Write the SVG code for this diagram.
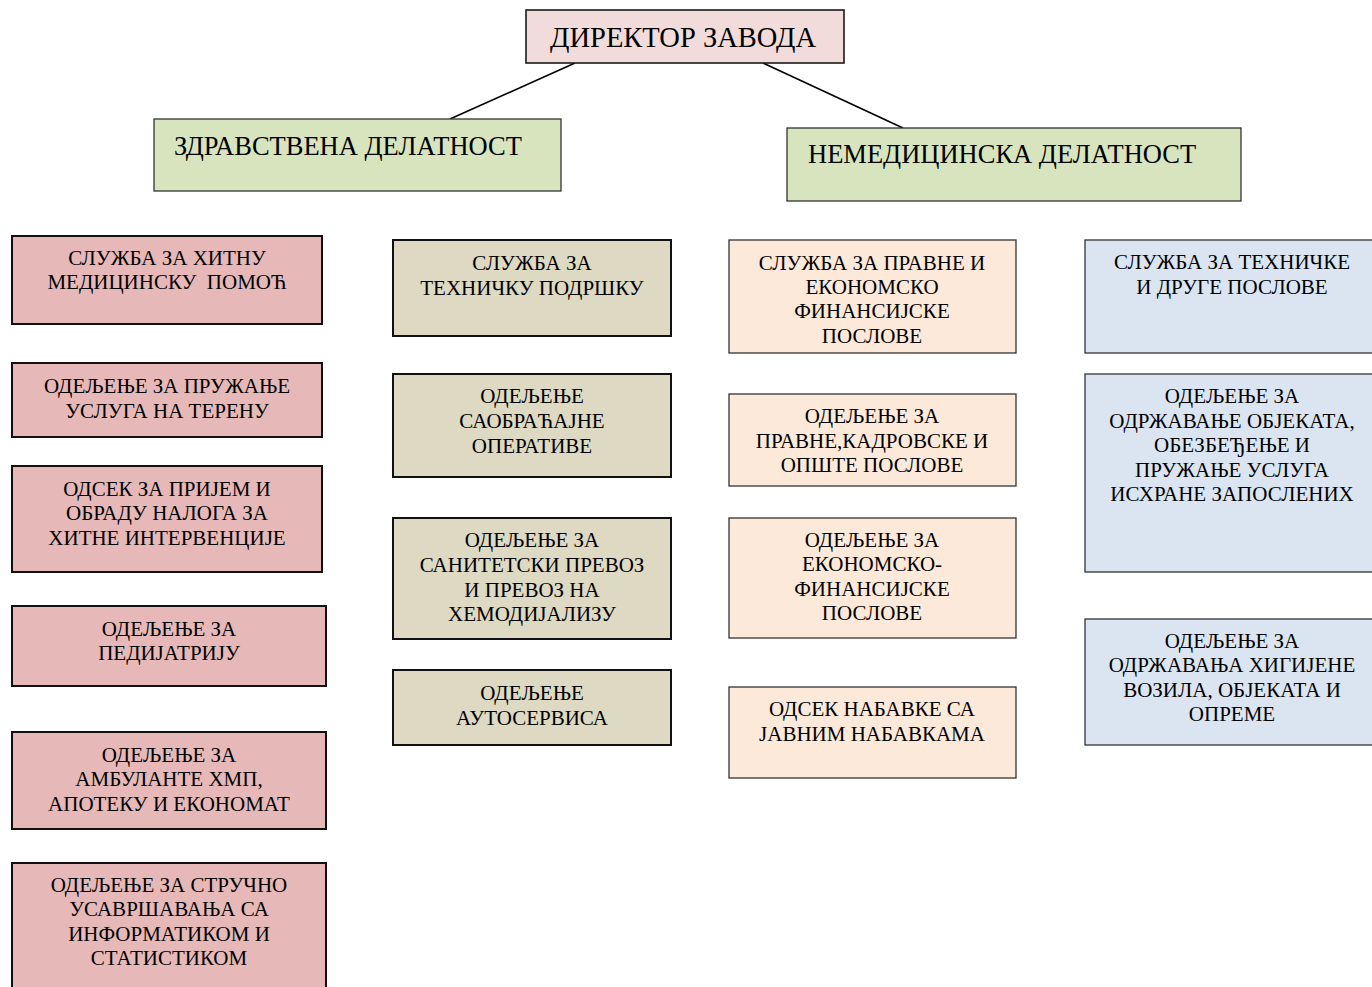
<svg xmlns="http://www.w3.org/2000/svg" width="1372" height="987" viewBox="0 0 1372 987">
<style>
text{font-family:"Liberation Serif","Times New Roman",serif;fill:#000;text-anchor:middle}
.t{font-size:21px}
.h{font-size:26.5px;text-anchor:start}
.top{fill:#f2dcdb;stroke:#1a1a1a;stroke-width:1.6}
.grn{fill:#d7e4bd;stroke:#333;stroke-width:1.3}
.pk{fill:#e6b9b8;stroke:#111;stroke-width:2}
.bg{fill:#ddd9c3;stroke:#111;stroke-width:2}
.pe{fill:#fde9d9;stroke:#333;stroke-width:1.3}
.bl{fill:#dbe5f1;stroke:#333;stroke-width:1.3}
.c{stroke:#000;stroke-width:1.6;fill:none}
</style>
<rect width="1372" height="987" fill="#fff"/>
<g id="connectors">
<line class="c" x1="575" y1="63" x2="450" y2="119"/>
<line class="c" x1="763" y1="63" x2="903" y2="128"/>
</g>
<g id="director"><rect class="top" x="526" y="10" width="318" height="53"/><text x="683" y="47" style="font-size:28.5px">ДИРЕКТОР ЗАВОДА</text></g>
<g id="zdravstvena"><rect class="grn" x="154" y="119" width="407" height="72"/><text class="h" x="174" y="155">ЗДРАВСТВЕНА ДЕЛАТНОСТ</text></g>
<g id="nemedicinska"><rect class="grn" x="787" y="128" width="454" height="73"/><text class="h" x="808" y="163">НЕМЕДИЦИНСКА ДЕЛАТНОСТ</text></g>

<g id="hmp"><rect class="pk" x="12" y="236" width="310" height="88"/><text class="t" x="167" y="265">СЛУЖБА ЗА ХИТНУ</text><text class="t" x="167" y="289" xml:space="preserve">МЕДИЦИНСКУ  ПОМОЋ</text></g>
<g id="teren"><rect class="pk" x="12" y="363" width="310" height="74"/><text class="t" x="167" y="393">ОДЕЉЕЊЕ ЗА ПРУЖАЊЕ</text><text class="t" x="167" y="418">УСЛУГА НА ТЕРЕНУ</text></g>
<g id="prijem"><rect class="pk" x="12" y="466" width="310" height="106"/><text class="t" x="167" y="496">ОДСЕК ЗА ПРИЈЕМ И</text><text class="t" x="167" y="520">ОБРАДУ НАЛОГА ЗА</text><text class="t" x="167" y="545">ХИТНЕ ИНТЕРВЕНЦИЈЕ</text></g>
<g id="pedijatrija"><rect class="pk" x="12" y="606" width="314" height="80"/><text class="t" x="169" y="636">ОДЕЉЕЊЕ ЗА</text><text class="t" x="169" y="660">ПЕДИЈАТРИЈУ</text></g>
<g id="ambulante"><rect class="pk" x="12" y="732" width="314" height="97"/><text class="t" x="169" y="762">ОДЕЉЕЊЕ ЗА</text><text class="t" x="169" y="786">АМБУЛАНТЕ ХМП,</text><text class="t" x="169" y="811">АПОТЕКУ И ЕКОНОМАТ</text></g>
<g id="strucno"><rect class="pk" x="12" y="863" width="314" height="130"/><text class="t" x="169" y="892">ОДЕЉЕЊЕ ЗА СТРУЧНО</text><text class="t" x="169" y="916">УСАВРШАВАЊА СА</text><text class="t" x="169" y="941">ИНФОРМАТИКОМ И</text><text class="t" x="169" y="965">СТАТИСТИКОМ</text></g>

<g id="tehpodrska"><rect class="bg" x="393" y="240" width="278" height="96"/><text class="t" x="532" y="270">СЛУЖБА ЗА</text><text class="t" x="532" y="295">ТЕХНИЧКУ ПОДРШКУ</text></g>
<g id="saobracajna"><rect class="bg" x="393" y="374" width="278" height="103"/><text class="t" x="532" y="403">ОДЕЉЕЊЕ</text><text class="t" x="532" y="428">САОБРАЋАЈНЕ</text><text class="t" x="532" y="453">ОПЕРАТИВЕ</text></g>
<g id="sanitetski"><rect class="bg" x="393" y="518" width="278" height="121"/><text class="t" x="532" y="547">ОДЕЉЕЊЕ ЗА</text><text class="t" x="532" y="572">САНИТЕТСКИ ПРЕВОЗ</text><text class="t" x="532" y="597">И ПРЕВОЗ НА</text><text class="t" x="532" y="621">ХЕМОДИЈАЛИЗУ</text></g>
<g id="autoservis"><rect class="bg" x="393" y="670" width="278" height="75"/><text class="t" x="532" y="700">ОДЕЉЕЊЕ</text><text class="t" x="532" y="725">АУТОСЕРВИСА</text></g>

<g id="pravne"><rect class="pe" x="729" y="240" width="287" height="113"/><text class="t" x="872" y="270">СЛУЖБА ЗА ПРАВНЕ И</text><text class="t" x="872" y="294">ЕКОНОМСКО</text><text class="t" x="872" y="318">ФИНАНСИЈСКЕ</text><text class="t" x="872" y="343">ПОСЛОВЕ</text></g>
<g id="kadrovske"><rect class="pe" x="729" y="394" width="287" height="92"/><text class="t" x="872" y="423">ОДЕЉЕЊЕ ЗА</text><text class="t" x="872" y="448">ПРАВНЕ,КАДРОВСКЕ И</text><text class="t" x="872" y="472">ОПШТЕ ПОСЛОВЕ</text></g>
<g id="ekonomsko"><rect class="pe" x="729" y="518" width="287" height="120"/><text class="t" x="872" y="547">ОДЕЉЕЊЕ ЗА</text><text class="t" x="872" y="571">ЕКОНОМСКО-</text><text class="t" x="872" y="596">ФИНАНСИЈСКЕ</text><text class="t" x="872" y="620">ПОСЛОВЕ</text></g>
<g id="nabavke"><rect class="pe" x="729" y="687" width="287" height="91"/><text class="t" x="872" y="716">ОДСЕК НАБАВКЕ СА</text><text class="t" x="872" y="741">ЈАВНИМ НАБАВКАМА</text></g>

<g id="tehnicke"><rect class="bl" x="1085" y="240" width="295" height="113"/><text class="t" x="1232" y="269">СЛУЖБА ЗА ТЕХНИЧКЕ</text><text class="t" x="1232" y="294">И ДРУГЕ ПОСЛОВЕ</text></g>
<g id="odrzavanje"><rect class="bl" x="1085" y="374" width="295" height="198"/><text class="t" x="1232" y="403">ОДЕЉЕЊЕ ЗА</text><text class="t" x="1232" y="428">ОДРЖАВАЊЕ ОБЈЕКАТА,</text><text class="t" x="1232" y="452">ОБЕЗБЕЂЕЊЕ И</text><text class="t" x="1232" y="477">ПРУЖАЊЕ УСЛУГА</text><text class="t" x="1232" y="501">ИСХРАНЕ ЗАПОСЛЕНИХ</text></g>
<g id="higijena"><rect class="bl" x="1085" y="619" width="295" height="126"/><text class="t" x="1232" y="648">ОДЕЉЕЊЕ ЗА</text><text class="t" x="1232" y="672">ОДРЖАВАЊА ХИГИЈЕНЕ</text><text class="t" x="1232" y="697">ВОЗИЛА, ОБЈЕКАТА И</text><text class="t" x="1232" y="721">ОПРЕМЕ</text></g>
</svg>
